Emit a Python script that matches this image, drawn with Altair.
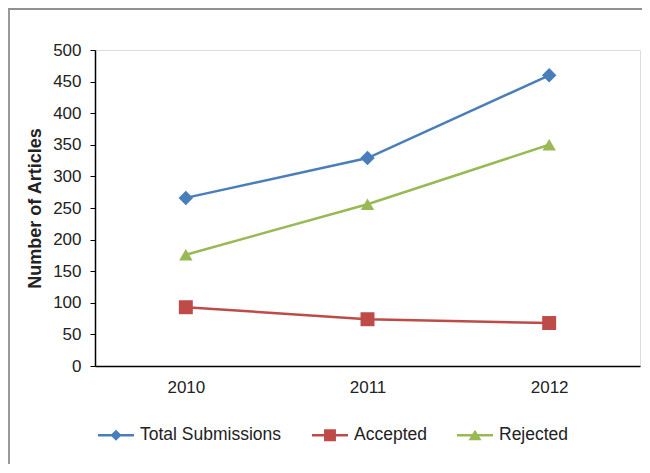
import altair as alt
import pandas as pd

years = ["2010", "2011", "2012"]
series = ["Total Submissions", "Accepted", "Rejected"]
total = [266, 329, 460]
accepted = [93, 74, 68]
rejected = [176, 256, 350]
y_ticks = [0, 50, 100, 150, 200, 250, 300, 350, 400, 450, 500]
colors = ["#4A7EBB", "#BE4B48", "#98B954"]
shapes = ["diamond", "square", "triangle-up"]
shape_sizes = [210, 180, 210]
legend_shapes = [
    "M-1,-0.07H1V0.07H-1Z M0,-0.31L0.31,0L0,0.31L-0.31,0Z",
    "M-1,-0.07H1V0.07H-1Z M-0.33,-0.33H0.33V0.33H-0.33Z",
    "M-1,-0.07H1V0.07H-1Z M0,-0.3L0.36,0.28L-0.36,0.28Z",
]

rows = []
for name, vals in zip(series, [total, accepted, rejected]):
    for yr, v in zip(years, vals):
        rows.append({"Year": yr, "Series": name, "Value": v})
df = pd.DataFrame(rows)

FONT = "Liberation Sans"

x_enc = alt.X("Year:O", scale=alt.Scale(type="point", padding=0.5),
              axis=alt.Axis(title=None, labelAngle=0, ticks=False, domainColor="#000",
                            domainWidth=1.5, labelPadding=13, labelFontSize=17,
                            labelColor="#222", labelFont=FONT))
y_enc = alt.Y("Value:Q", scale=alt.Scale(domain=[0, 500], nice=False),
              axis=alt.Axis(title="Number of Articles", values=y_ticks, grid=False,
                            domainColor="#000", domainWidth=1.5, tickColor="#000",
                            tickSize=5, tickWidth=1, labelPadding=9, labelFontSize=17,
                            labelColor="#222", labelFont=FONT, titleFont=FONT,
                            titleFontSize=18, titleFontWeight="bold", titleColor="#222",
                            titlePadding=8))

base = alt.Chart(df)

lines = base.mark_line(strokeWidth=2.5).encode(
    x=x_enc, y=y_enc,
    color=alt.Color("Series:N", scale=alt.Scale(domain=series, range=colors), legend=None),
)

points = base.mark_point(filled=True, opacity=1).encode(
    x=x_enc, y=y_enc,
    color=alt.Color("Series:N", scale=alt.Scale(domain=series, range=colors), legend=None),
    shape=alt.Shape("Series:N", scale=alt.Scale(domain=series, range=shapes), legend=None),
    size=alt.Size("Series:N", scale=alt.Scale(domain=series, range=shape_sizes), legend=None),
)

leg = alt.Legend(title=None, orient="none", legendX=3, legendY=367, direction="horizontal",
                 symbolSize=1296, symbolStrokeWidth=0, symbolOpacity=1, labelFontSize=17.5,
                 labelFont=FONT, labelColor="#222", labelOffset=6, columnPadding=30)

legend_layer = base.mark_point(filled=True, opacity=0).encode(
    x=x_enc, y=y_enc,
    color=alt.Color("Series:N", scale=alt.Scale(domain=series, range=colors), legend=leg),
    shape=alt.Shape("Series:N", scale=alt.Scale(domain=series, range=legend_shapes), legend=leg),
)

frame_df = pd.DataFrame({"k": [0]})
top_line = alt.Chart(frame_df).mark_rule(color="#222", strokeWidth=1.2).encode(
    x=alt.value(-87), x2=alt.value(560), y=alt.value(-41))
left_line = alt.Chart(frame_df).mark_rule(color="#999", strokeWidth=2).encode(
    x=alt.value(-86), y=alt.value(-41), y2=alt.value(420))

chart = alt.layer(top_line, left_line, lines, points, legend_layer).resolve_scale(
    color="independent", shape="independent"
).properties(
    width=545, height=316,
    autosize=alt.AutoSizeParams(type="none"),
    padding={"left": 87, "top": 42, "right": 2, "bottom": 98},
).configure_view(stroke=None).configure(background="white")

chart.save("out.html", embed_options={"renderer": "svg", "actions": False})
